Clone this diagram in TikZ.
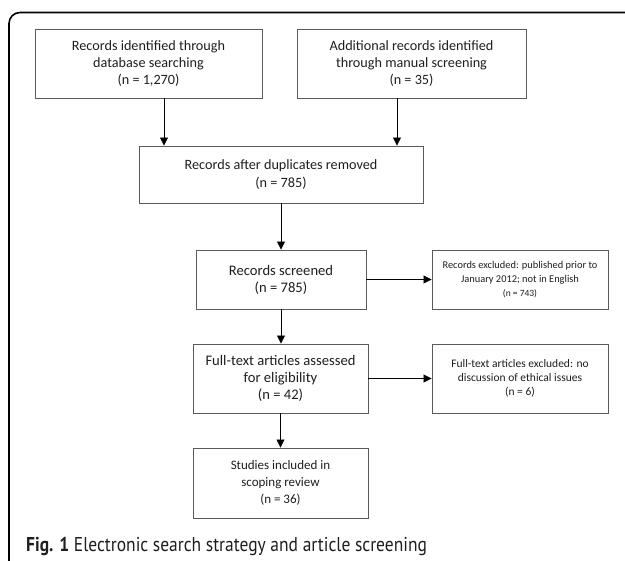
\documentclass[tikz,border=0pt]{standalone}
\usepackage{fontspec}
\setmainfont{Carlito}
\newfontfamily\capfont{PT Sans}
\usetikzlibrary{arrows.meta}
\definecolor{boxline}{HTML}{5A5A5A}
\definecolor{txt}{HTML}{1E1E1E}
\tikzset{
  box/.style={draw=boxline, line width=0.9pt, rectangle, inner sep=0pt, align=center, text=txt},
  arr/.style={line width=0.8pt, -{Triangle[length=8pt,width=8pt]}},
  big/.style={font=\fontsize{14.2}{17.3}\selectfont},
  mid/.style={font=\fontsize{14.6}{17}\selectfont},
  sml/.style={font=\fontsize{10.4}{14}\selectfont},
}
\begin{document}
\begin{tikzpicture}[x=1pt,y=-1pt]
\useasboundingbox (0,0) rectangle (625,561);
\draw[line width=1.6pt, rounded corners=11pt] (9,561) -- (9,12.5) -- (625,12.5);
\node[box,big,minimum width=227pt,minimum height=69pt] (b1) at (148.5,63.5) {Records identified through\\database searching\\(n = 1,270)};
\node[box,big,minimum width=229pt,minimum height=69pt] (b2) at (411.5,63.5) {Additional records identified\\through manual screening\\(n = 35)};
\node[box,big,minimum width=284pt,minimum height=57pt] (b3) at (281,174.5) {Records after duplicates removed\\(n = 785)};
\node[box,mid,minimum width=170pt,minimum height=59pt] (b4) at (281,279.5) {Records screened\\(n = 785)};
\node[box,sml,minimum width=176pt,minimum height=59pt] (b5) at (520,279.5) {Records excluded: published prior to\\January 2012; not in English\\{\fontsize{9.5}{12}\selectfont (n = 743)}};
\node[box,mid,minimum width=175pt,minimum height=69pt] (b6) at (280.5,378.5) {Full-text articles assessed\\for eligibility\\(n = 42)};
\node[box,font=\fontsize{11.5}{14}\selectfont,minimum width=176pt,minimum height=69pt] (b7) at (520,378.5) {Full-text articles excluded: no\\discussion of ethical issues\\(n = 6)};
\node[box,font=\fontsize{13}{17}\selectfont,minimum width=175pt,minimum height=70pt] (b8) at (280.5,483) {Studies included in\\scoping review\\(n = 36)};
\draw[arr] ([xshift=15.5pt]b1.south) -- ([xshift=15.5pt]b1.south |- b3.north);
\draw[arr] ([xshift=-14.5pt]b2.south) -- ([xshift=-14.5pt]b2.south |- b3.north);
\draw[arr] (b3.south) -- (b3.south |- b4.north);
\draw[arr] (b4.south) -- (b4.south |- b6.north);
\draw[arr] (b6.south) -- (b6.south |- b8.north);
\draw[arr] (b4.east) -- (b5.west);
\draw[arr] (b6.east) -- (b7.west);
\node[anchor=base west, inner sep=0pt, text=txt, font=\capfont\fontsize{20}{24}\selectfont] (cap) at (26,552) {\scalebox{0.874}[1]{\textbf{Fig. 1} Electronic search strategy and article screening}};
\end{tikzpicture}
\end{document}
